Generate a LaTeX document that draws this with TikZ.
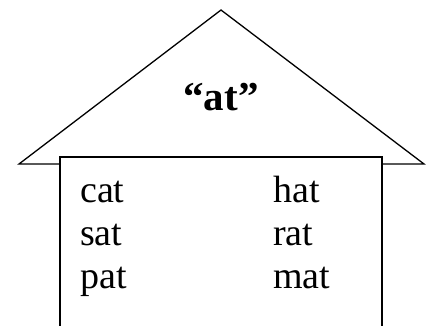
\documentclass[tikz,border=0pt]{standalone}
\usepackage{fontspec}
\setmainfont{Liberation Serif}
\usetikzlibrary{positioning}
\tikzset{
  contorno/.style={
    draw=black,
    line width=1.3pt,
    fill=white,
    line join=miter
  },
  titulo/.style={
    anchor=base,
    inner sep=0pt,
    font=\fontsize{41}{46}\selectfont\bfseries
  },
  palabra/.style={
    anchor=base west,
    inner sep=0pt,
    font=\fontsize{38}{43}\selectfont
  }
}

\begin{document}
\begin{tikzpicture}[x=1pt,y=1pt]
\useasboundingbox (0,0) rectangle (430,325);
\draw[contorno] (19,161) -- (221,315) -- (424,161) -- cycle;
\draw[contorno] (60,-5) rectangle (382,168);
\node[titulo] (rima) at (221,215) {“at”};
\node[palabra] (cat) at (80,123) {cat};
\node[palabra] (sat) at (80,80) {sat};
\node[palabra] (pat) at (80,37) {pat};
\node[palabra] (hat) at (273,123) {hat};
\node[palabra] (rat) at (273,80) {rat};
\node[palabra] (mat) at (273,37) {mat};
\end{tikzpicture}
\end{document}
